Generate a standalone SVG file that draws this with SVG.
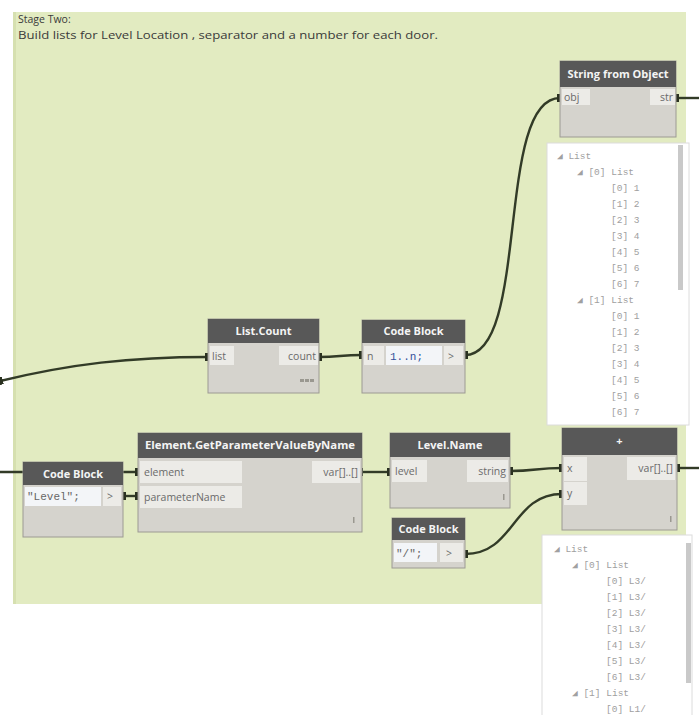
<svg xmlns="http://www.w3.org/2000/svg" width="699" height="715" viewBox="0 0 699 715">
<defs>
<style>
.grp{fill:#e2ebc1;}
.note{font-family:"Open Sans","Liberation Sans",sans-serif;font-size:10.5px;fill:#3a3a3a;}
.body{fill:#d5d3cd;stroke:#9c9a93;stroke-width:1;}
.hdr{fill:#585858;}
.ttl{font-family:"Open Sans","Liberation Sans",sans-serif;font-size:11px;font-weight:bold;fill:#f4f4f4;text-anchor:middle;}
.port{fill:#ecebe7;}
.code{fill:#f3f5f8;}
.lbl{font-family:"Open Sans","Liberation Sans",sans-serif;font-size:10.5px;fill:#6a6a6a;}
.lblr{font-family:"Open Sans","Liberation Sans",sans-serif;font-size:10.5px;fill:#6a6a6a;text-anchor:end;}
.mono{font-family:"Liberation Mono","DejaVu Sans Mono",monospace;font-size:11px;fill:#666;}
.monob{font-family:"Liberation Mono","DejaVu Sans Mono",monospace;font-size:11px;fill:#34509a;}
.lace{fill:#9a9890;}
.wire{fill:none;stroke:#323b27;stroke-width:2.4;marker-start:url(#nub);marker-end:url(#nub);}
.watch{fill:#ffffff;stroke:#dcdcdc;stroke-width:1;}
.scroll{fill:#c9c9c9;}
.wt{font-family:"Liberation Mono","DejaVu Sans Mono",monospace;font-size:9.5px;fill:#a0a0a0;}
</style>
<marker id="nub" viewBox="0 0 6 8" refX="3" refY="4" markerWidth="6" markerHeight="8" markerUnits="userSpaceOnUse" orient="auto">
<rect x="0" y="0" width="6" height="8" fill="#2a3120"/>
</marker>
</defs>
<rect width="699" height="715" fill="#ffffff"/>
<g id="group-stage-two">
<rect class="grp" x="13" y="12" width="673" height="592"/>
<rect x="13" y="12" width="3" height="592" fill="#d6e0b0"/>
<text class="note" x="18" y="23">Stage Two:</text>
<text class="note" x="18" y="39" textLength="420" lengthAdjust="spacingAndGlyphs">Build lists for Level Location , separator and a number for each door.</text>
</g>
<g id="connectors">
<path class="wire" d="M0,381 C70,364 130,357 208,357"/>
<path class="wire" d="M319,357 C340,357 340,355 362,355"/>
<path class="wire" d="M465,355 C530,355 495,98 560,98"/>
<path class="wire" d="M676,98 L702,98"/>
<path class="wire" d="M-4,472 L138,472"/>
<path class="wire" d="M123,496 L138,496"/>
<path class="wire" d="M360,472 L390,472"/>
<path class="wire" d="M510,471 C536,471 536,468 562,468"/>
<path class="wire" d="M465,554 C515,554 512,494 562,494"/>
<path class="wire" d="M677,468 L702,468"/>
</g>
<g id="node-string-from-object">
<rect class="body" x="560" y="61" width="116" height="76"/>
<rect class="hdr" x="560" y="61" width="116" height="26"/>
<text class="ttl" x="618" y="78">String from Object</text>
<rect class="port" x="562" y="89" width="28" height="16"/>
<text class="lbl" x="564" y="101">obj</text>
<rect class="port" x="650" y="89" width="25" height="16"/>
<text class="lblr" x="673" y="101">str</text>
</g>
<g id="watch-1">
<rect class="watch" x="547" y="143" width="142" height="282"/>
<rect class="scroll" x="678" y="145" width="5" height="145"/>
<text class="wt" x="557" y="159">◢ List</text>
<text class="wt" x="577" y="175">◢ [0] List</text>
<text class="wt" x="611" y="191">[0] 1</text>
<text class="wt" x="611" y="207">[1] 2</text>
<text class="wt" x="611" y="223">[2] 3</text>
<text class="wt" x="611" y="239">[3] 4</text>
<text class="wt" x="611" y="255">[4] 5</text>
<text class="wt" x="611" y="271">[5] 6</text>
<text class="wt" x="611" y="287">[6] 7</text>
<text class="wt" x="577" y="303">◢ [1] List</text>
<text class="wt" x="611" y="319">[0] 1</text>
<text class="wt" x="611" y="335">[1] 2</text>
<text class="wt" x="611" y="351">[2] 3</text>
<text class="wt" x="611" y="367">[3] 4</text>
<text class="wt" x="611" y="383">[4] 5</text>
<text class="wt" x="611" y="399">[5] 6</text>
<text class="wt" x="611" y="415">[6] 7</text>
</g>
<g id="node-list-count">
<rect class="body" x="208" y="319" width="111" height="74"/>
<rect class="hdr" x="208" y="319" width="111" height="24"/>
<text class="ttl" x="263.5" y="335">List.Count</text>
<rect class="port" x="210" y="346" width="24" height="19"/>
<text class="lbl" x="212" y="360">list</text>
<rect class="port" x="279" y="346" width="39" height="19"/>
<text class="lblr" x="316" y="360">count</text>
<rect class="lace" x="300" y="379" width="4" height="3"/>
<rect class="lace" x="305" y="379" width="4" height="3"/>
<rect class="lace" x="310" y="379" width="4" height="3"/>
</g>
<g id="node-code-block-range">
<rect class="body" x="362" y="320" width="103" height="73"/>
<rect class="hdr" x="362" y="320" width="103" height="23"/>
<text class="ttl" x="413.5" y="335">Code Block</text>
<rect class="port" x="364" y="346" width="20" height="19"/>
<text class="lbl" x="367" y="360">n</text>
<rect class="code" x="386" y="346" width="56" height="19"/>
<text class="monob" x="390" y="360">1..n;</text>
<rect class="port" x="444" y="346" width="19" height="19"/>
<text class="lbl" x="448" y="360">&gt;</text>
</g>
<g id="node-get-parameter">
<rect class="body" x="138" y="433" width="224" height="99"/>
<rect class="hdr" x="138" y="433" width="224" height="25"/>
<text class="ttl" x="250" y="449" textLength="210" lengthAdjust="spacingAndGlyphs">Element.GetParameterValueByName</text>
<rect class="port" x="140" y="461" width="102" height="22"/>
<text class="lbl" x="144" y="476">element</text>
<rect class="port" x="140" y="486" width="102" height="22"/>
<text class="lbl" x="144" y="501">parameterName</text>
<rect class="port" x="312" y="461" width="48" height="22"/>
<text class="lblr" x="358" y="476">var[]..[]</text>
<rect class="lace" x="353" y="517" width="1.5" height="6"/>
</g>
<g id="node-code-block-level">
<rect class="body" x="23" y="462" width="100" height="75"/>
<rect class="hdr" x="23" y="462" width="100" height="23"/>
<text class="ttl" x="73" y="478">Code Block</text>
<rect class="code" x="25" y="487" width="76" height="19"/>
<text class="mono" x="27" y="500">"Level";</text>
<rect class="port" x="103" y="487" width="18" height="19"/>
<text class="lbl" x="107" y="500">&gt;</text>
</g>
<g id="node-level-name">
<rect class="body" x="390" y="433" width="120" height="75"/>
<rect class="hdr" x="390" y="433" width="120" height="24"/>
<text class="ttl" x="450" y="449">Level.Name</text>
<rect class="port" x="392" y="460" width="35" height="22"/>
<text class="lbl" x="395" y="475">level</text>
<rect class="port" x="467" y="460" width="41" height="22"/>
<text class="lblr" x="506" y="475">string</text>
<rect class="lace" x="503" y="494" width="1.5" height="6"/>
</g>
<g id="node-code-block-sep">
<rect class="body" x="392" y="518" width="73" height="50"/>
<rect class="hdr" x="392" y="518" width="73" height="22"/>
<text class="ttl" x="428.5" y="533">Code Block</text>
<rect class="code" x="394" y="543" width="43" height="19"/>
<text class="mono" x="396" y="557">"/";</text>
<rect class="port" x="440" y="543" width="23" height="19"/>
<text class="lbl" x="446" y="557">&gt;</text>
</g>
<g id="node-add">
<rect class="body" x="562" y="428" width="115" height="102"/>
<rect class="hdr" x="562" y="428" width="115" height="27"/>
<text class="ttl" x="619.5" y="445">+</text>
<rect class="port" x="564" y="457" width="23" height="24"/>
<text class="lbl" x="567" y="472">x</text>
<rect class="port" x="564" y="482" width="23" height="23"/>
<text class="lbl" x="567" y="497">y</text>
<rect class="port" x="627" y="457" width="48" height="23"/>
<text class="lblr" x="673" y="472">var[]..[]</text>
<rect class="lace" x="670" y="516" width="1.5" height="6"/>
</g>
<g id="watch-2">
<rect class="watch" x="542" y="535" width="150" height="182"/>
<rect class="scroll" x="686" y="543" width="5" height="140"/>
<text class="wt" x="554" y="552">◢ List</text>
<text class="wt" x="572" y="568">◢ [0] List</text>
<text class="wt" x="606" y="584">[0] L3/</text>
<text class="wt" x="606" y="600">[1] L3/</text>
<text class="wt" x="606" y="616">[2] L3/</text>
<text class="wt" x="606" y="632">[3] L3/</text>
<text class="wt" x="606" y="648">[4] L3/</text>
<text class="wt" x="606" y="664">[5] L3/</text>
<text class="wt" x="606" y="680">[6] L3/</text>
<text class="wt" x="572" y="696">◢ [1] List</text>
<text class="wt" x="606" y="712">[0] L1/</text>
</g>
</svg>
